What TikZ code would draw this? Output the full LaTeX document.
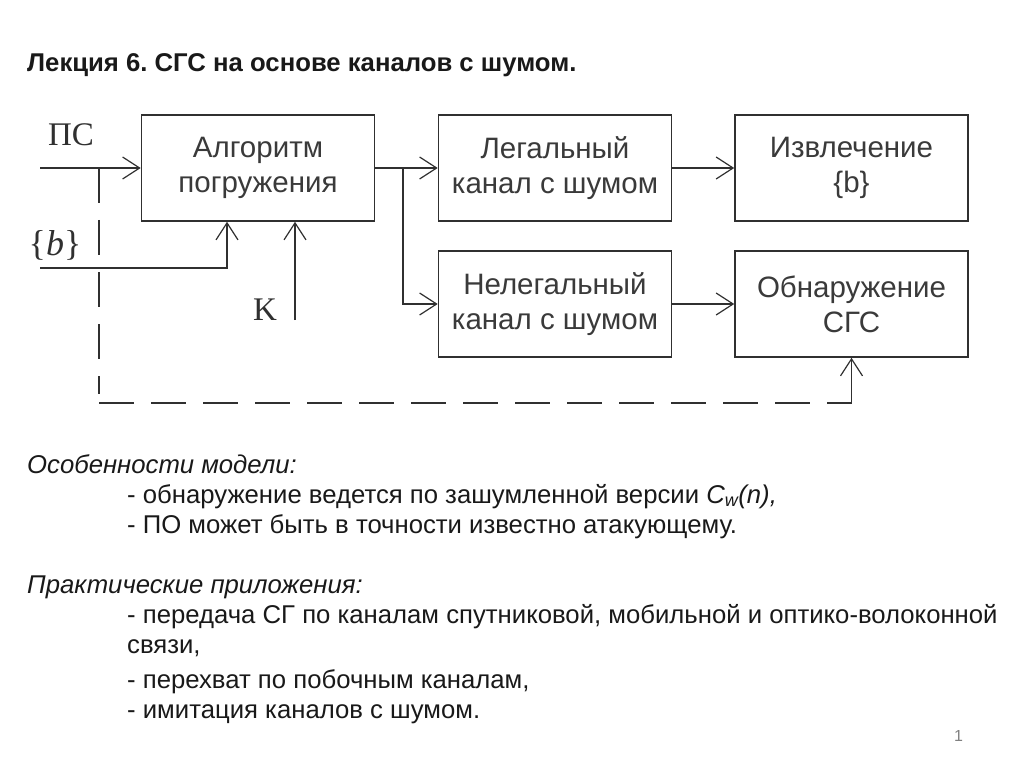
\documentclass[tikz,border=0pt]{standalone}
\usepackage{fontspec}
\setmainfont{Liberation Sans}
\newfontfamily\serifont{Liberation Serif}
\usetikzlibrary{arrows.meta,positioning}
\frenchspacing
\definecolor{linegray}{HTML}{303030}
\definecolor{textgray}{HTML}{3A3A3A}
\tikzset{
	block/.style={draw=linegray, line width=1.6pt, minimum width=233pt, minimum height=106pt,
		align=center, text=textgray, font=\fontsize{29.5}{35}\selectfont, inner sep=0pt},
	conn/.style={draw=linegray, line width=1.6pt, -{Straight Barb[length=17pt,width=22pt,line width=1.2pt]}},
	plain/.style={draw=linegray, line width=1.6pt},
	dashline/.style={draw=linegray, line width=1.6pt, dash pattern=on 35pt off 17pt},
	inlabel/.style={font=\serifont\fontsize{33}{33}\selectfont, text=linegray, inner sep=0pt},
	body/.style={anchor=base west, inner sep=0pt, font=\fontsize{25.7}{30}\selectfont, text=black!90}
}
\begin{document}
\begin{tikzpicture}[x=1pt,y=-1pt]
	\useasboundingbox (0,0) rectangle (1024,767);
	% title
	\node [body, font=\bfseries\fontsize{25.7}{30}\selectfont] (title) at (27,72) {Лекция 6. СГС на основе каналов с шумом.};
	% blocks
	\node [block] (embed) at (258,168) {Алгоритм\\погружения};
	\node [block] (legal) at (555,168) {Легальный\\канал с шумом};
	\node [block] (extract) at (851.5,168) {Извлечение\\\{b\}};
	\node [block] (illegal) at (555,304) {Нелегальный\\канал с шумом};
	\node [block] (detect) at (851.5,304) {Обнаружение\\СГС};
	% inputs
	\node [inlabel] (pslabel) at (71,135) {ПС};
	\node [inlabel, font=\serifont\fontsize{36}{36}\selectfont] (blabel) at (55,245) {\{\textit{b}\}};
	\node [inlabel] (klabel) at (265,310) {K};
	\coordinate (psin) at (40,168);
	\coordinate (bin) at (40,268);
	\coordinate (kin) at (295,320);
	\coordinate (tap) at (99,168);
	\coordinate (corner) at (99,403);
	\coordinate (split) at (403,168);
	\coordinate (detin) at (detect.south |- corner);
	\draw [conn] (psin) -- (embed.west);
	\draw [conn] (bin) -| ([xshift=-31pt]embed.south);
	\draw [conn] (kin) -- (kin |- embed.south);
	% channels
	\draw [conn] (embed.east) -- (legal.west);
	\draw [conn] (split) |- (illegal.west);
	\draw [conn] (legal.east) -- (extract.west);
	\draw [conn] (illegal.east) -- (detect.west);
	% key path to detector
	\draw [dashline] (tap) -- ([yshift=9pt]corner);
	\draw [dashline] (corner) -- (detin);
	\draw [conn] (detin) -- (detect.south);
	% notes
	\node [body, font=\itshape\fontsize{25.7}{30}\selectfont] (feat) at (27,473) {Особенности модели:};
	\node [body] (feat1) at (127,503) {- обнаружение ведется по зашумленной версии \textit{C\textsubscript{w}(n),}};
	\node [body] (feat2) at (127,533) {- ПО может быть в точности известно атакующему.};
	\node [body, font=\itshape\fontsize{25.7}{30}\selectfont] (appl) at (27,593) {Практические приложения:};
	\node [body] (appl1) at (127,623) {- передача СГ по каналам спутниковой, мобильной и оптико-волоконной};
	\node [body] (appl1b) at (127,653) {связи,};
	\node [body] (appl2) at (127,688) {- перехват по побочным каналам,};
	\node [body] (appl3) at (127,718) {- имитация каналов с шумом.};
	\node [body, font=\fontsize{16}{16}\selectfont, text=gray] (pagenum) at (954,741) {1};
\end{tikzpicture}
\end{document}
